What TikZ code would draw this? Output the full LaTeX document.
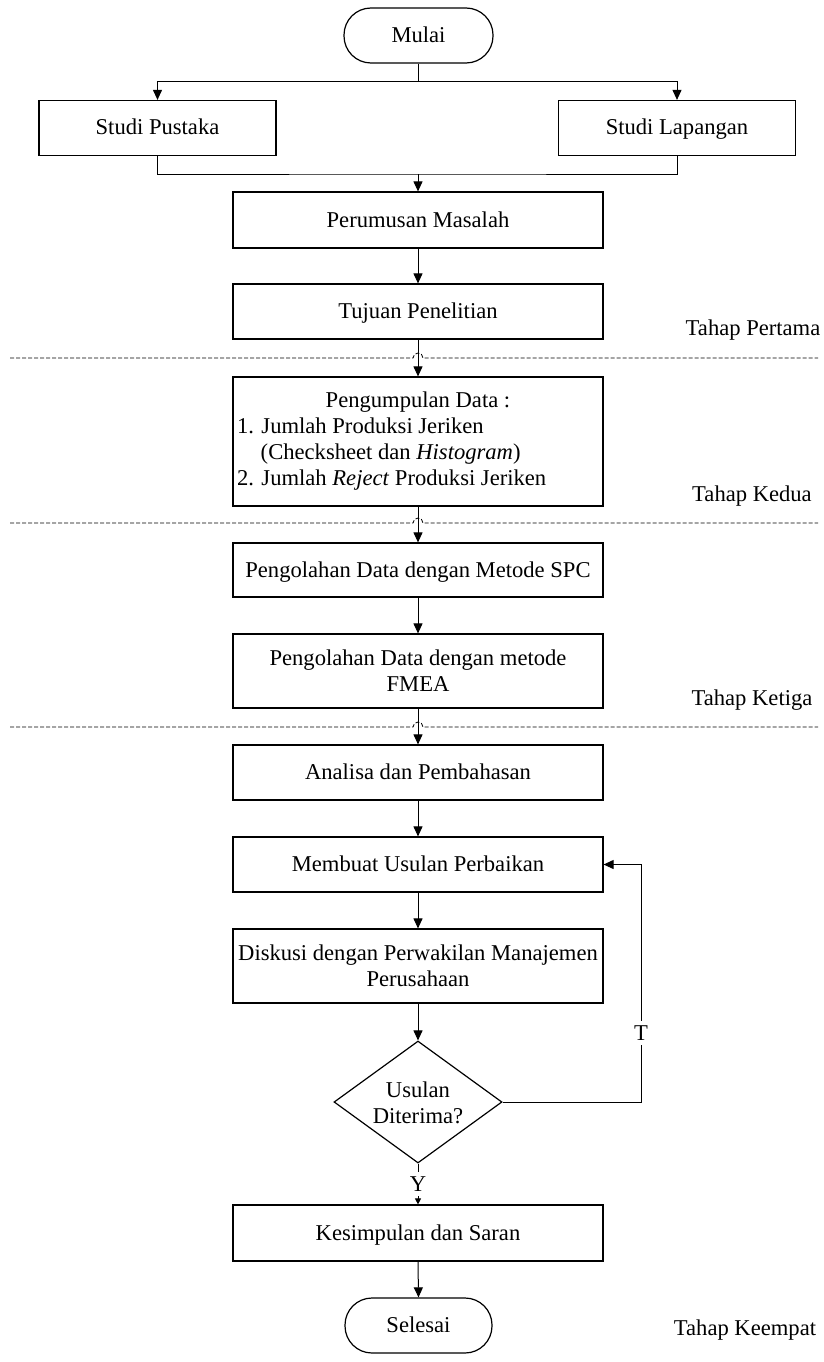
\documentclass[tikz,border=0pt]{standalone}
\usepackage{fontspec}
\setmainfont{Liberation Serif}
\usetikzlibrary{arrows.meta,shapes.geometric}
\newcommand\fs{\fontsize{22.6}{26}\selectfont}
\begin{document}
\begin{tikzpicture}[x=1pt,y=-1pt,
  every node/.style={font=\fs},
  box/.style={draw,line width=1.2pt,minimum width=370pt,minimum height=55pt,inner sep=2pt,align=center},
  one/.style={text height=16pt,text depth=2pt},
  sidebox/.style={box,one,minimum width=237pt},
  term/.style={draw,line width=1.2pt,rounded corners=27pt,minimum width=149pt,minimum height=55pt,inner sep=2pt,one},
  conn/.style={line width=1pt},
  arr/.style={conn,-{Triangle[length=10pt,width=9pt]}},
  sarr/.style={conn,-{Triangle[length=6pt,width=6pt]}},
  dsh/.style={line width=0.8pt,dash pattern=on 4pt off 2pt},
  lbl/.style={fill=white,inner xsep=2pt,inner ysep=4pt,text height=15.5pt,text depth=0pt},
  tahap/.style={inner sep=0pt}]
\useasboundingbox (0,0) rectangle (823,1362);

% nodes
\node[term] (mulai) at (418.5,35.5) {Mulai};
\node[sidebox] (sp) at (157.5,128) {Studi Pustaka};
\node[sidebox] (sl) at (677,128) {Studi Lapangan};
\node[box,one,minimum height=56pt] (per) at (418,220) {Perumusan Masalah};
\node[box,one] (tuj) at (418,311.5) {Tujuan Penelitian};
\node[box,minimum height=129pt] (peng) at (418,441.5) {\parbox{362pt}{\fs\centering Pengumpulan Data :\par\raggedright
 1. Jumlah Produksi Jeriken\par
 \hspace*{1.05em}(Checksheet dan \textit{Histogram})\par
 2. Jumlah \textit{Reject} Produksi Jeriken}};
\node[box,one,minimum height=54pt] (spc) at (418,570) {Pengolahan Data dengan Metode SPC};
\node[box,minimum height=74pt] (fmea) at (418,671) {Pengolahan Data dengan metode\\FMEA};
\node[box,one] (ana) at (418,772.5) {Analisa dan Pembahasan};
\node[box,one] (memb) at (418,864.5) {Membuat Usulan Perbaikan};
\node[box,minimum height=74pt] (disk) at (418,966) {Diskusi dengan Perwakilan Manajemen\\Perusahaan};
\node[draw,diamond,line width=1.2pt,minimum width=168pt,minimum height=122pt,inner sep=0pt] (dec) at (418,1102) {};
\node[align=center,inner sep=0pt] (dect) at (418,1103) {Usulan\\Diterima?};
\node[box,one,minimum height=56pt] (kes) at (418,1233) {Kesimpulan dan Saran};
\node[term,minimum width=147pt] (sel) at (418.5,1325.5) {Selesai};

\node[tahap] (t1) at (753,330) {Tahap Pertama};
\node[tahap] (t2) at (752,496) {Tahap Kedua};
\node[tahap] (t3) at (752,700) {Tahap Ketiga};
\node[tahap] (t4) at (745,1330) {Tahap Keempat};

% coordinates
\coordinate (jb) at (418.5,82);
\coordinate (jm) at (418,174);
\coordinate (cT) at (641,1102);
\coordinate (cT2) at (641,864.5);

% connectors
\draw[conn] (mulai.south) -- (jb);
\draw[arr] (jb) -| (sp.north);
\draw[arr] (jb) -| (sl.north);
\draw[conn] (sp.south) |- (jm) -| (sl.south);
\draw[arr] (jm) -- (per.north);
\draw[arr] (per.south) -- (tuj.north);
\draw[arr] (tuj.south) -- (peng.north);
\draw[arr] (peng.south) -- (spc.north);
\draw[arr] (spc.south) -- (fmea.north);
\draw[arr] (fmea.south) -- (ana.north);
\draw[arr] (ana.south) -- (memb.north);
\draw[arr] (memb.south) -- (disk.north);
\draw[arr] (disk.south) -- (dec.north);
\draw[sarr] (dec.south) -- node[lbl,pos=0.5] (ylab) {Y} (kes.north);
\draw[arr] (kes.south) -- (sel.north);
\draw[arr] (dec.east) -- (cT) -- node[lbl,pos=0.29] (tlab) {T} (cT2) -- (memb.east);

% dashed phase separators with hops
\foreach \yy/\nm in {358/a,523/b,727/c}{
  \coordinate (d\nm l) at (10,\yy);
  \coordinate (d\nm h) at (413,\yy);
  \coordinate (d\nm k) at (423,\yy);
  \coordinate (d\nm r) at (818,\yy);
  \draw[dsh] (d\nm l) -- (d\nm h) arc[start angle=180,end angle=0,radius=5pt] -- (d\nm r);
}
\end{tikzpicture}
\end{document}
